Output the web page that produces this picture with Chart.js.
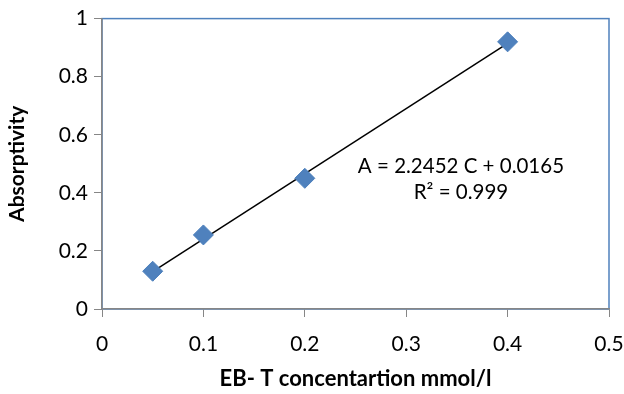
<!DOCTYPE html>
<html>
<head>
<meta charset="utf-8">
<script src="https://cdn.jsdelivr.net/npm/chart.js@4"></script>
<style>
  html, body { margin: 0; padding: 0; background: #fff; }
  #wrap { position: relative; width: 624px; height: 394px; }
</style>
</head>
<body>
<div id="wrap"><canvas id="chart" width="624" height="394"></canvas></div>
<script>
// measured points
const concentration = [0.05, 0.1, 0.2, 0.4];
const absorptivity = [0.13, 0.255, 0.45, 0.92];

// linear trendline end points (as shown in the picture)
const trendX = [0.05, 0.4];
const trendY = [0.129, 0.915];

const equationLines = ["A = 2.2452 C + 0.0165", "R² = 0.999"];

const xTicks = [0, 0.1, 0.2, 0.3, 0.4, 0.5];
const yTicks = [0, 0.2, 0.4, 0.6, 0.8, 1];

const FONT = "Lato, 'Open Sans', sans-serif";
const AXIS_GRAY = "#868686";
const BLUE = "#4F81BD";

// blue plot frame + equation label
const framePlugin = {
  id: "frame",
  beforeDraw(chart) {
    const { ctx, chartArea: a } = chart;
    ctx.save();
    ctx.strokeStyle = BLUE;
    ctx.lineWidth = 1.5;
    ctx.strokeRect(a.left, a.top, a.right - a.left, a.bottom - a.top);
    ctx.restore();
  },
  afterDatasetsDraw(chart) {
    const { ctx, scales } = chart;
    const cx = scales.x.getPixelForValue(0.354);
    const cy = scales.y.getPixelForValue(0.49);
    ctx.save();
    ctx.fillStyle = "#000";
    ctx.font = "20.5px " + FONT;
    ctx.textAlign = "center";
    ctx.textBaseline = "middle";
    ctx.fillText(equationLines[0], cx, cy);
    ctx.fillText(equationLines[1], cx, cy + 26);
    ctx.restore();
  }
};

new Chart(document.getElementById("chart").getContext("2d"), {
  type: "scatter",
  data: {
    datasets: [
      {
        type: "line",
        label: "Trend",
        data: trendX.map((x, i) => ({ x: x, y: trendY[i] })),
        borderColor: "#000",
        borderWidth: 1.5,
        pointRadius: 0,
        fill: false,
        order: 2
      },
      {
        label: "Absorptivity",
        data: concentration.map((x, i) => ({ x: x, y: absorptivity[i] })),
        pointStyle: "rectRot",
        pointRadius: 10,
        backgroundColor: BLUE,
        borderColor: "#4A7EBB",
        borderWidth: 1,
        order: 1
      }
    ]
  },
  options: {
    responsive: false,
    animation: false,
    layout: { padding: { top: 17, right: 15, left: 0, bottom: 0 } },
    plugins: {
      legend: { display: false },
      tooltip: { enabled: false }
    },
    scales: {
      x: {
        type: "linear",
        min: 0,
        max: 0.5,
        afterBuildTicks(scale) { scale.ticks = xTicks.map(v => ({ value: v })); },
        afterFit(scale) {
          scale.height = 85;
          scale.paddingLeft = 0;
          scale.paddingRight = 0;
        },
        grid: { drawOnChartArea: false, drawTicks: true, tickLength: 8, color: AXIS_GRAY },
        border: { color: AXIS_GRAY, width: 1.5 },
        ticks: {
          color: "#000",
          font: { family: FONT, size: 21 },
          padding: 15,
          maxRotation: 0,
          callback: v => String(v)
        },
        title: {
          display: true,
          text: "EB- T concentartion mmol/l",
          color: "#000",
          font: { family: FONT, size: 22, weight: "bold" },
          padding: { top: 4, bottom: 2 }
        }
      },
      y: {
        type: "linear",
        min: 0,
        max: 1,
        afterBuildTicks(scale) { scale.ticks = yTicks.map(v => ({ value: v })); },
        afterFit(scale) { scale.width = 102; },
        grid: { drawOnChartArea: false, drawTicks: true, tickLength: 8, color: AXIS_GRAY },
        border: { color: AXIS_GRAY, width: 1.5 },
        ticks: {
          color: "#000",
          font: { family: FONT, size: 21 },
          padding: 6,
          callback: v => String(v)
        },
        title: {
          display: true,
          text: "Absorptivity",
          color: "#000",
          font: { family: FONT, size: 21, weight: "bold" },
          padding: { top: 5, bottom: 4 }
        }
      }
    }
  },
  plugins: [framePlugin]
});
</script>
</body>
</html>
